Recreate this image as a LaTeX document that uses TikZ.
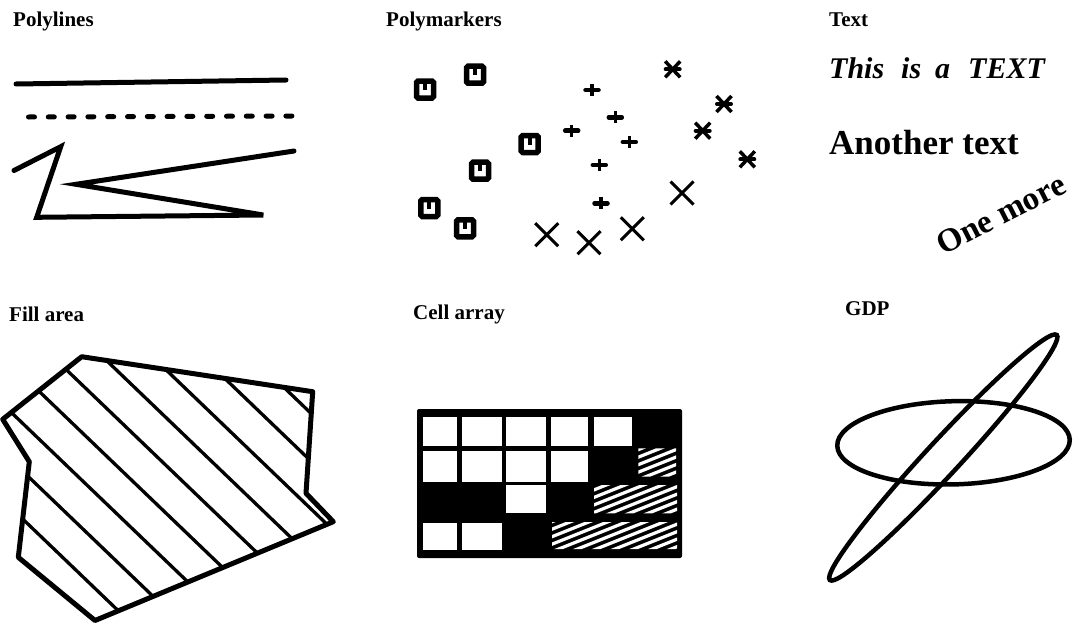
\documentclass[tikz,border=0pt]{standalone}
\usepackage{fontspec}
\setmainfont{Liberation Serif}
\begin{document}
\begin{tikzpicture}[x=1pt,y=-1pt,
  title/.style={font=\fontsize{21}{24}\selectfont\bfseries, anchor=base west, inner sep=0pt},
  pline/.style={line width=5pt, line cap=round},
  border/.style={line width=5pt, line join=round},
  hatch/.style={line width=3.3pt},
  whitestripe/.style={white, line width=3.2pt},
  gdp/.style={line width=4.5pt}]
\useasboundingbox (0,0) rectangle (1073,624);

% titles
\node[title] (t1) at (13,26.5) {Polylines};
\node[title] (t2) at (386,26.5) {Polymarkers};
\node[title] (t3) at (829,26) {Text};
\node[title] (t4) at (9,321.5) {Fill area};
\node[title] (t5) at (413,319) {Cell array};
\node[title] (t6) at (845,315) {GDP};

% polylines
\draw[pline] (16,84) -- (286,80);
\draw[pline, dash pattern=on 6pt off 13.8pt] (28.5,117) -- (292,116);
\draw[pline] (14,170.5) -- (60.7,146.7) -- (36.7,217.3) -- (263.3,215) -- (76,184.3) -- (294,151);

% polymarkers: squares
\foreach \x/\y in {425/89.5, 475/74.7, 529.7/144, 480/170.7, 429.3/208, 465/228.3} {
  \draw[line width=5.5pt, rounded corners=1.5pt] (\x-8.5,\y-8.5) rectangle (\x+8.5,\y+8.5);
  \fill (\x-2,\y-6) rectangle (\x+2,\y+0.5);
}
% plus
\foreach \x/\y in {592/90, 615.3/117.3, 571.7/130.7, 629.3/142, 599.3/165, 601/203.3} {
  \draw[line width=4.5pt, line cap=round] (\x-6.5,\y) -- (\x+6.5,\y);
  \draw[line width=3.5pt] (\x,\y-6) -- (\x,\y+6);
}
% asterisk crosses
\foreach \x/\y in {672.7/69.3, 724/104, 702.7/130.7, 747.3/159.3} {
  \draw[line width=3.5pt] (\x-7.5,\y-8) -- (\x+7.5,\y+8) (\x-7.5,\y+8) -- (\x+7.5,\y-8);
  \draw[line width=4pt, line cap=round] (\x-7,\y) -- (\x+7,\y);
}
% big crosses
\foreach \x/\y in {682/193, 546.7/234.7, 589/242.7, 632.3/228.7} {
  \draw[line width=3pt] (\x-11.5,\y-11.5) -- (\x+11.5,\y+11.5) (\x-11.5,\y+11.5) -- (\x+11.5,\y-11.5);
}

% text panel
\node[anchor=base west, inner sep=0pt, font=\fontsize{30}{33}\selectfont\bfseries\itshape] (txt1) at (829,78.3) {This\hspace{17pt}is\hspace{14pt}a\hspace{18pt}TEXT};
\node[anchor=base west, inner sep=0pt, font=\fontsize{35}{40}\selectfont\bfseries] (txt2) at (829,154) {Another text};
\node[rotate=27, inner sep=0pt, font=\fontsize{33}{36}\selectfont\bfseries] (txt3) at (1001,214) {One more};

% fill area
\begin{scope}
\clip (81.7,356.7) -- (312.7,391.7) -- (306,493.3) -- (333.3,521.7) -- (95,620.5) -- (18.3,557.3) -- (29.3,461.7) -- (2.7,419.3) -- cycle;
\foreach \c in {114.8,162.6,210.4,258.2,306,353.8,401.6,449.4,497.2}
  \draw[hatch] (-20,{\c-19.2}) -- (360,{\c+345.6});
\end{scope}
\draw[border] (81.7,356.7) -- (312.7,391.7) -- (306,493.3) -- (333.3,521.7) -- (95,620.5) -- (18.3,557.3) -- (29.3,461.7) -- (2.7,419.3) -- cycle;

% cell array
\fill[rounded corners=2pt] (417,409) rectangle (682,558);
\foreach \xa/\xb in {422.7/456.7, 461.7/501.7, 506/545.7, 550.7/588.3, 594/631.7}
  \fill[white] (\xa,417.3) rectangle (\xb,445.7);
\foreach \xa/\xb in {422.7/456.7, 461.7/501.7, 506/545.7, 550.7/588.3}
  \fill[white] (\xa,450.7) rectangle (\xb,481.7);
\fill[white] (506,485) rectangle (545.7,513.3);
\foreach \xa/\xb in {422.7/456.7, 461.7/501.7}
  \fill[white] (\xa,522.7) rectangle (\xb,550);
\begin{scope}
\clip (638.3,448.3) rectangle (676,476.7) (594,485) rectangle (677,513.3) (552,522) rectangle (677,549);
\foreach \c in {660,667.5,...,840}
  \draw[whitestripe] (540,{\c-216}) -- (690,{\c-276});
\end{scope}

% GDP
\draw[gdp, rotate around={1.5:(953.5,442.8)}] (953.5,442.8) ellipse [x radius=116.3, y radius=41.6];
\draw[gdp, rotate around={47.2:(943.3,457.5)}] (943.3,457.5) ellipse [x radius=167, y radius=17];
\end{tikzpicture}
\end{document}
